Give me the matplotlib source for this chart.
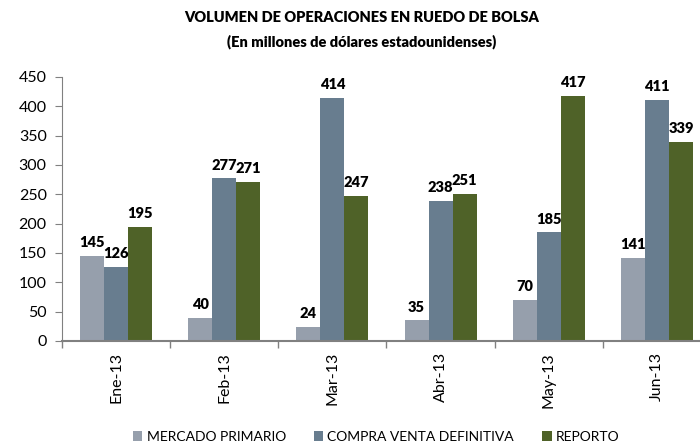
import matplotlib
matplotlib.use("Agg")
import matplotlib.pyplot as plt
import numpy as np

plt.rcParams['font.family'] = ['Lato', 'DejaVu Sans']

categories = ["Ene-13", "Feb-13", "Mar-13", "Abr-13", "May-13", "Jun-13"]
mercado_primario = [145, 40, 24, 35, 70, 141]
compra_venta = [126, 277, 414, 238, 185, 411]
reporto = [195, 271, 247, 251, 417, 339]
series_names = ["MERCADO PRIMARIO", "COMPRA VENTA DEFINITIVA", "REPORTO"]
colors = ["#969FAC", "#687D8F", "#4F6228"]

fig = plt.figure(figsize=(7.0, 4.46), dpi=100)
ax = fig.add_axes([62/700, 1-341/446, (711-62)/700, (341-77)/446])

x = np.arange(len(categories))
w = 1/4.5
handles = []
for i, (vals, c, name) in enumerate(zip([mercado_primario, compra_venta, reporto], colors, series_names)):
    bars = ax.bar(x + (i-1)*w, vals, width=w, color=c, label=name, zorder=2)
    handles.append(bars)
    for xi, v in zip(x + (i-1)*w, vals):
        ax.annotate(str(v), (xi, v), xytext=(0, 5), textcoords="offset points",
                    ha="center", va="bottom", fontsize=10.5, fontweight="heavy", color="black")

ax.set_xlim(-0.5, len(categories)-0.5)
ax.set_ylim(0, 450)
ax.set_yticks(range(0, 451, 50))
ax.set_xticks(x)
ax.set_xticklabels(categories, rotation=90, fontsize=11.5)
ax.set_xticks(np.arange(-0.5, len(categories), 1), minor=True)
ax.tick_params(axis='x', which='major', length=0, pad=8)
ax.tick_params(axis='x', which='minor', length=5, color="#808080", width=1)
ax.tick_params(axis='y', length=5, color="#808080", labelsize=11.5, pad=6)
for s in ["top", "right"]:
    ax.spines[s].set_visible(False)
ax.spines["left"].set_color("#808080")
ax.spines["bottom"].set_color("#808080")
ax.spines["bottom"].set_linewidth(1.5)

fig.text(362/700, 1-18/446, "VOLUMEN DE OPERACIONES EN RUEDO DE BOLSA", ha="center", va="center",
         fontsize=10.5, fontweight="heavy")
fig.text(362/700, 1-42/446, "(En millones de dólares estadounidenses)", ha="center", va="center",
         fontsize=10.5, fontweight="heavy")

fig.legend(handles=handles, labels=series_names, loc="center", bbox_to_anchor=(376/700, 1-437/446),
           ncol=3, frameon=False, fontsize=10, handlelength=0.7, handleheight=0.7,
           handletextpad=0.3, columnspacing=2.0)

fig.savefig("out.png", dpi=100)
